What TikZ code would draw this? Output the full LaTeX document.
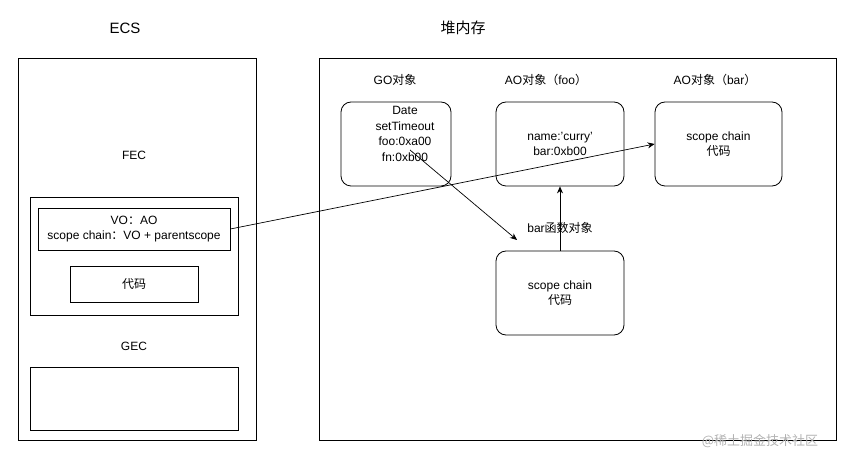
\documentclass[tikz,border=0pt]{standalone}
\usepackage{fontspec}
\setmainfont{Liberation Sans}
\newfontfamily\cjk{Noto Sans CJK SC}
\usetikzlibrary{arrows.meta}
\begin{document}
\begin{tikzpicture}[x=1pt,y=-1pt,
  box/.style={draw,line width=0.8pt},
  rbox/.style={draw,line width=0.8pt,rounded corners=10pt},
  lbl/.style={font=\fontsize{12}{15}\selectfont,align=center,inner sep=0pt},
  arr/.style={-{Stealth[length=7pt,width=6pt]},line width=0.7pt}]
\useasboundingbox (0,0) rectangle (847,457);
\node[lbl,font=\fontsize{15}{18}\selectfont] (ecs) at (125,28) {ECS};
\node[lbl,font=\fontsize{15}{18}\selectfont\cjk] (heap) at (463,28) {堆内存};
\draw[box] (18,58) rectangle (256,440);
\node[lbl] (fec) at (134,155) {FEC};
\draw[box] (30,197) rectangle (238,315);
\node[box,minimum width=192pt,minimum height=42pt,lbl] (vo) at (134,229) {VO{\cjk ：}AO\\scope chain{\cjk ：}VO + parentscope};
\node[box,minimum width=128pt,minimum height=36pt,lbl] (code) at (134,284) {\cjk 代码};
\node[lbl] (gec) at (134,346) {GEC};
\node[box,minimum width=208pt,minimum height=63pt] (gecbox) at (134,398.5) {};
\draw[box] (319,58) rectangle (836,440);
\node[lbl] (gol) at (395,80) {GO{\cjk 对象}};
\node[rbox,minimum width=110pt,minimum height=84pt] (go) at (396,144) {};
\node[lbl,font=\fontsize{12}{15.5}\selectfont] (gotext) at (405,134) {Date\\setTimeout\\foo:0xa00\\fn:0xb00};
\coordinate (fooref) at (410,150);
\node[lbl] (aofl) at (546,80) {AO{\cjk 对象（}foo{\cjk ）}};
\node[rbox,minimum width=128pt,minimum height=84pt,lbl] (aofoo) at (560,144) {name:'curry'\\bar:0xb00};
\node[lbl] (aobl) at (715,80) {AO{\cjk 对象（}bar{\cjk ）}};
\node[rbox,minimum width=127pt,minimum height=84pt,lbl] (aobar) at (718.5,144) {scope chain\\{\cjk 代码}};
\node[lbl] (barl) at (560,228) {bar{\cjk 函数对象}};
\node[rbox,minimum width=128pt,minimum height=84pt,lbl] (barf) at (560,293) {scope chain\\{\cjk 代码}};
\coordinate (bartop) at (517,240);
\draw[arr] (vo.east) -- (aobar.west);
\draw[arr] (fooref) -- (bartop);
\draw[arr] (barf.north) -- (aofoo.south);
\node[lbl,text=black!30,font=\fontsize{13}{15}\selectfont\cjk] (wm) at (760,441) {@稀土掘金技术社区};
\end{tikzpicture}
\end{document}
